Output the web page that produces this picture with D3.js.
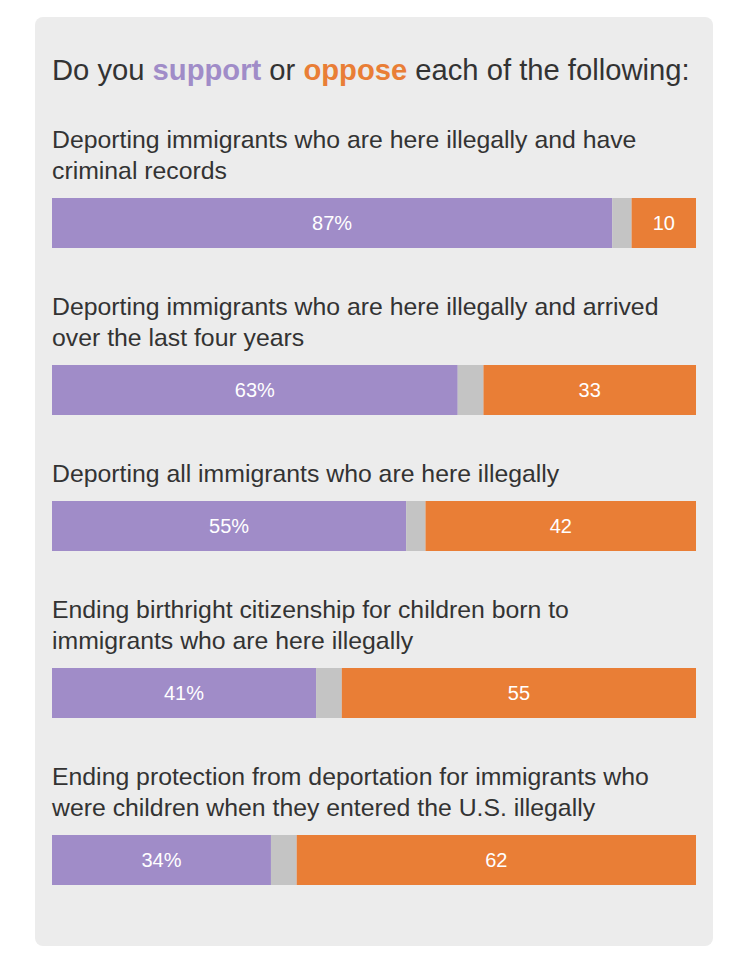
<!DOCTYPE html>
<html>
<head>
<meta charset="utf-8">
<script src="https://cdn.jsdelivr.net/npm/d3@7"></script>
<style>
  body { margin: 0; background: #fff; }
  svg { display: block; }
</style>
</head>
<body>
<svg id="chart"></svg>
<script>
// survey items, one entry per bar (label already split into lines)
var questions = [
    ["Deporting immigrants who are here illegally and have", "criminal records"],
    ["Deporting immigrants who are here illegally and arrived", "over the last four years"],
    ["Deporting all immigrants who are here illegally"],
    ["Ending birthright citizenship for children born to", "immigrants who are here illegally"],
    ["Ending protection from deportation for immigrants who", "were children when they entered the U.S. illegally"]
];
var support = [87, 63, 55, 41, 34];
var oppose = [10, 33, 42, 55, 62];

var PURPLE = "#a08cc8", ORANGE = "#e97e36", GRAY = "#c4c4c4";
var FONT = "'Liberation Sans', Arial, sans-serif";

function drawChart() {
    var svgWidth = 748, svgHeight = 959;
    var svg = d3.select("#chart").attr("width", svgWidth).attr("height", svgHeight);

    // grey card
    svg.append("rect")
        .attr("x", 35).attr("y", 17)
        .attr("width", 678).attr("height", 929)
        .attr("rx", 8)
        .attr("fill", "#ececec");

    // title with coloured keywords
    var title = svg.append("text")
        .attr("x", 52).attr("y", 80)
        .attr("font-family", FONT)
        .attr("font-size", 29.2)
        .attr("fill", "#333");
    title.append("tspan").text("Do you ");
    title.append("tspan").attr("fill", PURPLE).attr("font-weight", "bold").text("support");
    title.append("tspan").text(" or ");
    title.append("tspan").attr("fill", ORANGE).attr("font-weight", "bold").text("oppose");
    title.append("tspan").text(" each of the following:");

    var x = d3.scaleLinear().domain([0, 100]).range([52, 696]);
    var barHeight = 50, lineHeight = 31;

    // work out vertical positions from label line counts
    var rows = [];
    var y = 148;
    questions.forEach(function(lines, i) {
        var barTop = y + (lines.length - 1) * lineHeight + 19;
        rows.push({ lines: lines, base: y, barTop: barTop, s: support[i], o: oppose[i] });
        y = barTop + barHeight + 67;
    });

    var g = svg.selectAll("g.row").data(rows).enter().append("g").attr("class", "row");

    g.append("text")
        .attr("font-family", FONT)
        .attr("font-size", 24.8)
        .attr("fill", "#333")
        .selectAll("tspan")
        .data(function(d) { return d.lines.map(function(l, j) { return { t: l, y: d.base + j * lineHeight }; }); })
        .enter().append("tspan")
        .attr("x", 52)
        .attr("y", function(d) { return d.y; })
        .text(function(d) { return d.t; });

    // support segment
    g.append("rect")
        .attr("x", x(0))
        .attr("y", function(d) { return d.barTop; })
        .attr("width", function(d) { return x(d.s) - x(0); })
        .attr("height", barHeight)
        .attr("fill", PURPLE);

    // no opinion
    g.append("rect")
        .attr("x", function(d) { return x(d.s); })
        .attr("y", function(d) { return d.barTop; })
        .attr("width", function(d) { return x(100 - d.o) - x(d.s); })
        .attr("height", barHeight)
        .attr("fill", GRAY);

    // oppose segment
    g.append("rect")
        .attr("x", function(d) { return x(100 - d.o); })
        .attr("y", function(d) { return d.barTop; })
        .attr("width", function(d) { return x(100) - x(100 - d.o); })
        .attr("height", barHeight)
        .attr("fill", ORANGE);

    g.append("text")
        .attr("x", function(d) { return (x(0) + x(d.s)) / 2; })
        .attr("y", function(d) { return d.barTop + 32; })
        .attr("text-anchor", "middle")
        .attr("font-family", FONT)
        .attr("font-size", 20)
        .attr("fill", "#fff")
        .text(function(d) { return d.s + "%"; });

    g.append("text")
        .attr("x", function(d) { return (x(100 - d.o) + x(100)) / 2; })
        .attr("y", function(d) { return d.barTop + 32; })
        .attr("text-anchor", "middle")
        .attr("font-family", FONT)
        .attr("font-size", 20)
        .attr("fill", "#fff")
        .text(function(d) { return d.o; });
}

drawChart();
</script>
</body>
</html>
